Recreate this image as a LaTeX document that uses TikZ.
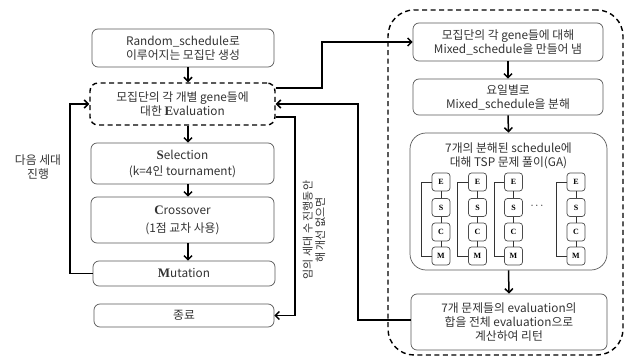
\documentclass[tikz,border=0pt]{standalone}
\usepackage{fontspec}
\setmainfont{Noto Sans CJK KR}
\newfontfamily\serifb{Liberation Serif}
\usetikzlibrary{arrows.meta}
\newcommand{\BL}[1]{{\serifb\bfseries\fontsize{13}{13}\selectfont #1}}
\begin{document}
\begin{tikzpicture}[x=1pt,y=-1pt,
  box/.style={draw=black!65,line width=0.7pt,rounded corners=6pt,align=center,inner sep=0pt,
    font=\fontsize{11.8}{14}\selectfont,text=black!80},
  dbox/.style={draw=black,line width=1.4pt,dash pattern=on 5pt off 3.5pt,rounded corners=8pt,align=center,inner sep=0pt,
    font=\fontsize{11.8}{14}\selectfont,text=black!80},
  sbox/.style={draw=black!70,line width=0.7pt,rounded corners=3pt,minimum width=18pt,minimum height=18pt,inner sep=0pt,
    font=\serifb\bfseries\fontsize{8}{9}\selectfont},
  arr/.style={line width=1.5pt,-{Straight Barb[length=4pt,width=8pt,line width=1.5pt]}},
  thin/.style={line width=0.7pt,black!80},
  lbl/.style={align=center,font=\fontsize{11.8}{14}\selectfont,text=black!80,inner sep=0pt}]
\useasboundingbox (0,0) rectangle (626,363);
\fill[white] (0,0) rectangle (626,363);

% left column
\node[box,minimum width=182pt,minimum height=38pt] (b1) at (183,48) {Random\_schedule로\\이루어지는 모집단 생성};
\node[dbox,minimum width=185pt,minimum height=42pt] (ev) at (182.5,104) {모집단의 각 개별 gene들에\\대한 \BL{E}valuation};
\node[box,minimum width=183pt,minimum height=41pt] (b3) at (182.5,163.5) {\BL{S}election\\[2pt](k=4인 tournament)};
\node[box,minimum width=183pt,minimum height=46pt] (b4) at (182.5,220) {\BL{C}rossover\\[4pt](1점 교차 사용)};
\node[box,minimum width=182pt,minimum height=25pt] (b5) at (184,273.5) {\BL{M}utation};
\node[box,minimum width=180pt,minimum height=23pt] (b6) at (184,315.5) {종료};

\draw[arr] ([xshift=5pt]b1.south) -- ([xshift=5.5pt]ev.north);
\draw[arr] ([xshift=5.5pt]ev.south) -- ([xshift=5.5pt]b3.north);
\draw[arr] ([xshift=5.5pt]b3.south) -- ([xshift=5.5pt]b4.north);
\draw[arr] ([xshift=5.5pt]b4.south) -- ([xshift=4pt]b5.north);

\coordinate (lp) at (70,0);
\draw[arr] (b5.west) -- (b5.west -| lp) |- (ev.west);
\node[lbl] (l1) at (38,167) {다음 세대\\진행};

% right dashed group
\node[draw=black,line width=1.4pt,dash pattern=on 5pt off 3.5pt,rounded corners=26pt,minimum width=235pt,minimum height=345pt,inner sep=0pt] (grp) at (505.5,182.5) {};

\node[box,minimum width=190pt,minimum height=38pt] (r1) at (508,42) {모집단의 각 gene들에 대해\\Mixed\_schedule을 만들어 냄};
\node[box,minimum width=190pt,minimum height=36pt] (r2) at (508,97) {요일별로\\Mixed\_schedule을 분해};
\node[box,rounded corners=16pt,minimum width=197pt,minimum height=137pt] (r3) at (508.5,201.5) {};
\node[lbl] (r3t) at (508.5,155.5) {7개의 분해된 schedule에\\대해 TSP 문제 풀이(GA)};
\node[box,minimum width=196pt,minimum height=56pt] (r4) at (509,322) {7개 문제들의 evaluation의\\합을 전체 evaluation으로\\계산하여 리턴};

\draw[arr] (r1.south) -- (r2.north);
\draw[arr] (r2.south) -- (r3.north);
\draw[arr] (r3.south) -- (r4.north);

% ESCM columns
\foreach \i/\cx/\bx in {1/441/421, 2/477.5/457, 3/513.5/494, 4/576/556} {
  \node[sbox] (e\i) at (\cx,182) {E};
  \node[sbox] (s\i) at (\cx,207.5) {S};
  \node[sbox] (c\i) at (\cx,232) {C};
  \node[sbox] (m\i) at (\cx,256) {M};
  \draw[thin] (e\i) -- (s\i);
  \draw[thin] (s\i) -- (c\i);
  \draw[thin] (c\i) -- (m\i);
  \coordinate (k\i) at (\bx,0);
  \draw[thin] (e\i.west) -- (e\i.west -| k\i) -- (m\i.west -| k\i) -- (m\i.west);
}
\node[inner sep=0pt,font=\fontsize{11}{12}\selectfont] (dots) at (537,206) {$\cdots$};

% connectors between groups
\coordinate (ua) at (322,88);
\draw[arr] (ev.east |- ua) -- (ua) |- (r1.west);
\coordinate (ub) at (358,320);
\draw[arr] (r4.west |- ub) -- (ub) |- (ev.east);
\coordinate (uc) at (295,117);
\draw[arr] (ev.east |- uc) -- (uc) |- (b6.east);
\node[lbl,rotate=90,font=\fontsize{11}{12.5}\selectfont] (vl) at (314,230) {임의 세대 수 진행동안\\해 개선 없으면};
\end{tikzpicture}
\end{document}
